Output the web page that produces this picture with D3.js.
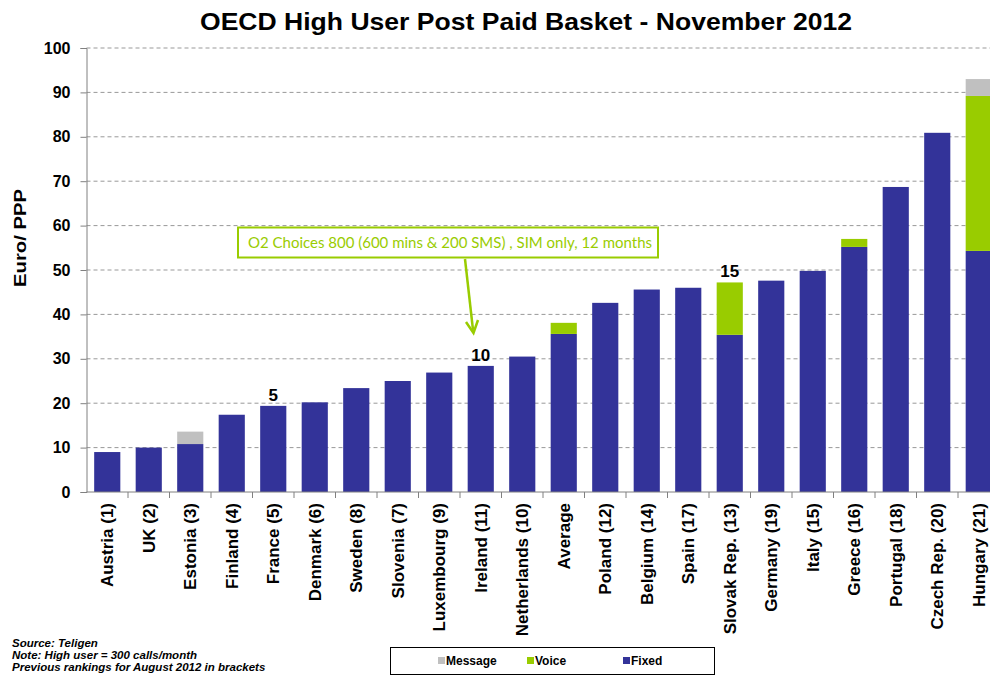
<!DOCTYPE html>
<html>
<head>
<meta charset="utf-8">
<script src="https://cdn.jsdelivr.net/npm/d3@7"></script>
<style>
  html, body { margin: 0; padding: 0; background: #fff; }
  svg { display: block; font-family: "Liberation Sans", Arial, sans-serif; }
</style>
</head>
<body>
<svg id="chart" width="990" height="677"></svg>
<script>
// ---- Data ----
const categories = ["Austria (1)", "UK (2)", "Estonia (3)", "Finland (4)", "France (5)", "Denmark (6)",
  "Sweden (8)", "Slovenia (7)", "Luxembourg (9)", "Ireland (11)", "Netherlands (10)", "Average",
  "Poland (12)", "Belgium (14)", "Spain (17)", "Slovak Rep. (13)", "Germany (19)", "Italy (15)",
  "Greece (16)", "Portugal (18)", "Czech Rep. (20)", "Hungary (21)"];
const fixedValues   = [9.0, 10.0, 10.8, 17.4, 19.4, 20.2, 23.4, 25.0, 26.9, 28.4, 30.5, 35.6, 42.6, 45.6, 46.0, 35.4, 47.6, 49.8, 55.2, 68.7, 80.9, 54.3];
const voiceValues   = [0, 0, 0, 0, 0, 0, 0, 0, 0, 0, 0, 2.5, 0, 0, 0, 11.8, 0, 0, 1.8, 0, 0, 34.9];
const messageValues = [0, 0, 2.8, 0, 0, 0, 0, 0, 0, 0, 0, 0, 0, 0, 0, 0, 0, 0, 0, 0, 0, 3.8];
const yTicks = [0, 10, 20, 30, 40, 50, 60, 70, 80, 90, 100];
const seriesKeys = ["fixed", "voice", "message"];
const seriesNames = ["Fixed", "Voice", "Message"];
const seriesColors = ["#333399", "#99cc00", "#c0c0c0"];
const rankLabels = [{ cat: "France (5)", text: "5" }, { cat: "Ireland (11)", text: "10" }, { cat: "Slovak Rep. (13)", text: "15" }];
const titleText = "OECD High User Post Paid Basket - November 2012";
const yTitle = "Euro/ PPP";
const calloutText = "O2 Choices 800 (600 mins & 200 SMS) , SIM only, 12 months";
const notes = ["Source: Teligen", "Note: High user = 300 calls/month", "Previous rankings for August 2012  in brackets"];

// ---- Build ----
const rows = categories.map((c, i) => ({ cat: c, fixed: fixedValues[i], voice: voiceValues[i], message: messageValues[i] }));
const stacked = d3.stack().keys(seriesKeys)(rows);

const svg = d3.select("#chart");
const plotLeft = 86.5, plotRight = 999.5, plotTop = 48, plotBottom = 492;

const x = d3.scaleBand().domain(categories).range([plotLeft, plotRight]).paddingInner(0.37).paddingOuter(0.185);
const y = d3.scaleLinear().domain([0, 100]).range([plotBottom, plotTop]);

// Gridlines
svg.append("g").selectAll("line").data(yTicks.filter(t => t > 0)).join("line")
  .attr("x1", plotLeft).attr("x2", 990)
  .attr("y1", d => y(d)).attr("y2", d => y(d))
  .attr("stroke", "#999").attr("stroke-width", 1).attr("stroke-dasharray", "4,3");

// Bars
const colorOf = d3.scaleOrdinal().domain(seriesKeys).range(seriesColors);
svg.append("g").selectAll("g").data(stacked).join("g")
  .attr("fill", d => colorOf(d.key))
  .selectAll("rect").data(d => d.filter(s => s[1] - s[0] > 0)).join("rect")
  .attr("x", d => x(d.data.cat))
  .attr("width", x.bandwidth())
  .attr("y", d => y(d[1]))
  .attr("height", d => y(d[0]) - y(d[1]));

// Y axis
const yAxis = svg.append("g").attr("transform", `translate(${plotLeft},0)`)
  .call(d3.axisLeft(y).tickValues(yTicks).tickSize(6).tickPadding(10));
yAxis.select(".domain").attr("stroke", "#808080");
yAxis.selectAll(".tick line").attr("stroke", "#808080");
yAxis.selectAll(".tick text").attr("fill", "#000")
  .style("font-size", "16px").style("font-weight", "bold")
  .style("font-family", "'Liberation Sans', Arial, sans-serif");

// X axis
const step = x.step();
const xg = svg.append("g").attr("transform", `translate(0,${plotBottom})`);
xg.append("line").attr("x1", plotLeft).attr("x2", 990).attr("y1", 0).attr("y2", 0).attr("stroke", "#808080");
xg.selectAll("line.tk").data(categories.slice(1)).join("line").attr("class", "tk")
  .attr("x1", d => x(d) - (step - x.bandwidth()) / 2).attr("x2", d => x(d) - (step - x.bandwidth()) / 2)
  .attr("y1", 0).attr("y2", 6).attr("stroke", "#808080");
xg.selectAll("text").data(categories).join("text")
  .attr("transform", d => `translate(${x(d) + x.bandwidth() / 2 + 6},11) rotate(-90)`)
  .attr("text-anchor", "end")
  .style("font-size", "17px").style("font-weight", "bold").attr("fill", "#000")
  .text(d => d);

// Y title
svg.append("text").attr("transform", "translate(26,238) rotate(-90)")
  .attr("text-anchor", "middle").style("font-size", "17px").style("font-weight", "bold")
  .attr("textLength", 98).attr("lengthAdjust", "spacingAndGlyphs").text(yTitle);

// Title
svg.append("text").attr("x", 526).attr("y", 30).attr("text-anchor", "middle")
  .style("font-size", "24px").style("font-weight", "bold")
  .attr("textLength", 652).attr("lengthAdjust", "spacingAndGlyphs").text(titleText);

// Rank labels
const totals = new Map(rows.map(r => [r.cat, r.fixed + r.voice + r.message]));
svg.append("g").selectAll("text").data(rankLabels).join("text")
  .attr("x", d => x(d.cat) + x.bandwidth() / 2)
  .attr("y", d => y(totals.get(d.cat)) - 5)
  .attr("text-anchor", "middle")
  .style("font-family", "'Liberation Sans Narrow', 'Liberation Sans', Arial, sans-serif")
  .style("font-size", "17px").style("font-weight", "bold").text(d => d.text);

// Callout
const co = svg.append("g");
co.append("rect").attr("x", 238).attr("y", 227.5).attr("width", 420).attr("height", 30)
  .attr("fill", "#fff").attr("stroke", "#99cc00").attr("stroke-width", 2);
co.append("text").attr("x", 248).attr("y", 247.5)
  .style("font-family", "Lato, 'Open Sans', sans-serif").style("font-size", "14.5px").attr("fill", "#99cc00")
  .attr("textLength", 404).attr("lengthAdjust", "spacingAndGlyphs")
  .text(calloutText);
co.append("line").attr("x1", 465).attr("y1", 259).attr("x2", 473).attr("y2", 330)
  .attr("stroke", "#99cc00").attr("stroke-width", 2.5);
co.append("path").attr("d", "M466,322 L473.5,333 L478,320").attr("fill", "none")
  .attr("stroke", "#99cc00").attr("stroke-width", 2.5);

// Notes
svg.append("g").selectAll("text").data(notes).join("text")
  .attr("x", 12).attr("y", (d, i) => 647 + i * 12)
  .style("font-size", "11.5px").style("font-weight", "bold").style("font-style", "italic").text(d => d);

// Legend
const lg = svg.append("g");
lg.append("rect").attr("x", 390.5).attr("y", 647.5).attr("width", 324).attr("height", 27)
  .attr("fill", "#fff").attr("stroke", "#000").attr("stroke-width", 1);
const legendItems = [
  { name: seriesNames[2], color: seriesColors[2], x: 438 },
  { name: seriesNames[1], color: seriesColors[1], x: 527 },
  { name: seriesNames[0], color: seriesColors[0], x: 623 }
];
const li = lg.selectAll("g").data(legendItems).join("g").attr("transform", d => `translate(${d.x},657)`);
li.append("rect").attr("width", 7).attr("height", 7).attr("fill", d => d.color);
li.append("text").attr("x", 8).attr("y", 7.5).style("font-size", "12px").style("font-weight", "bold").text(d => d.name);
</script>
</body>
</html>
